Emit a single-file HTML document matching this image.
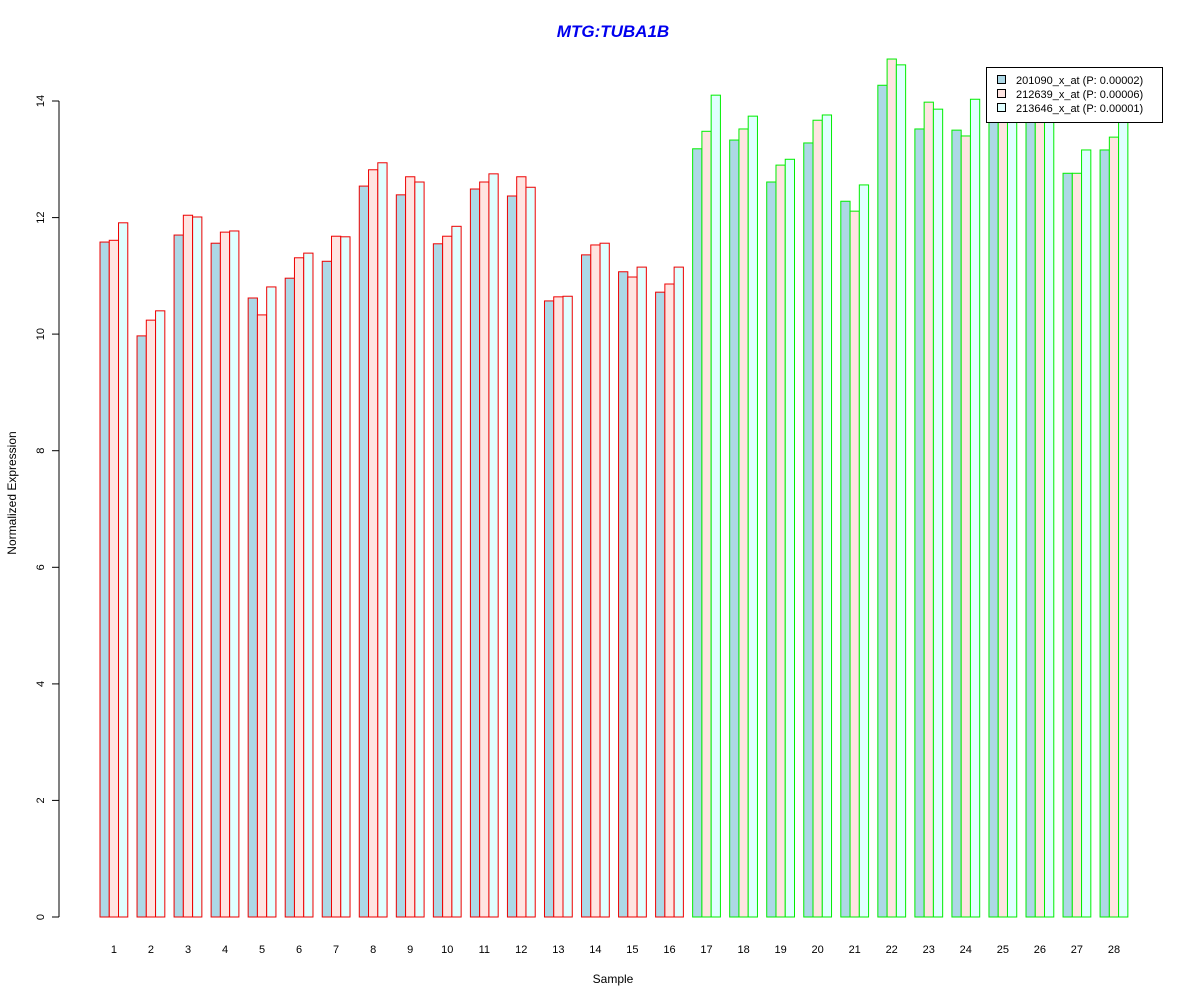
<!DOCTYPE html>
<html><head><meta charset="utf-8"><style>body{margin:0;background:#fff}svg{display:block;font-family:"Liberation Sans",Arial,sans-serif}</style></head>
<body>
<svg id="s" width="1200" height="1000" xmlns="http://www.w3.org/2000/svg">
<rect width="1200" height="1000" fill="#fff"/>
<text x="613" y="37" text-anchor="middle" font-size="17" font-weight="bold" font-style="italic" fill="#0000ee">MTG:TUBA1B</text>
<line x1="59" y1="101" x2="59" y2="917" stroke="#000"/>
<text x="613" y="983" text-anchor="middle" font-size="12">Sample</text>
<text transform="translate(16,493) rotate(-90)" text-anchor="middle" font-size="12">Normalized Expression</text>
<g id="bars"></g>
<g id="ax"></g>
<rect x="986.5" y="67.5" width="176" height="55" fill="#fff" stroke="#000"/>
<rect x="997.5" y="75.5" width="8" height="8" fill="#ADD8E6" stroke="#000"/>
<rect x="997.5" y="89.5" width="8" height="8" fill="#FFE4E1" stroke="#000"/>
<rect x="997.5" y="103.5" width="8" height="8" fill="#E0FFFF" stroke="#000"/>
<text x="1016" y="84" font-size="11">201090_x_at (P: 0.00002)</text>
<text x="1016" y="98" font-size="11">212639_x_at (P: 0.00006)</text>
<text x="1016" y="112" font-size="11">213646_x_at (P: 0.00001)</text>
</svg>
<script>
var d=[[11.58,11.61,11.91],[9.97,10.24,10.40],[11.70,12.04,12.01],[11.56,11.75,11.77],[10.62,10.33,10.81],[10.96,11.31,11.39],[11.25,11.68,11.67],[12.54,12.82,12.94],[12.39,12.70,12.61],[11.55,11.68,11.85],[12.49,12.61,12.75],[12.37,12.70,12.52],[10.57,10.64,10.65],[11.36,11.53,11.56],[11.07,10.98,11.15],[10.72,10.86,11.15],[13.18,13.48,14.10],[13.33,13.52,13.74],[12.61,12.90,13.00],[13.28,13.67,13.76],[12.28,12.11,12.56],[14.27,14.72,14.62],[13.52,13.98,13.86],[13.50,13.40,14.03],[13.8,14.0,14.1],[13.7,13.9,13.8],[12.76,12.76,13.16],[13.16,13.38,13.8]];
var f=["#ADD8E6","#FFE4E1","#E0FFFF"],s="",a="",u=58.286,bw=9.26,st=37.04;
d.forEach(function(g,i){var x0=100+i*st,c=i<16?"#ee0000":"#00ee00";
g.forEach(function(v,j){var y=917-v*u;s+='<rect x="'+(x0+j*bw).toFixed(2)+'" y="'+y.toFixed(2)+'" width="'+bw+'" height="'+(v*u).toFixed(2)+'" fill="'+f[j]+'" stroke="'+c+'" stroke-width="1"/>';});
a+='<text x="'+(x0+1.5*bw).toFixed(1)+'" y="953" text-anchor="middle" font-size="11">'+(i+1)+'</text>';});
for(var k=0;k<=14;k+=2){var y=917-k*u;a+='<line x1="52" x2="59" y1="'+y.toFixed(1)+'" y2="'+y.toFixed(1)+'" stroke="#000"/><text transform="translate(44,'+y.toFixed(1)+') rotate(-90)" text-anchor="middle" font-size="11">'+k+'</text>';}
document.getElementById("bars").innerHTML=s;document.getElementById("ax").innerHTML=a;
</script>
</body></html>
